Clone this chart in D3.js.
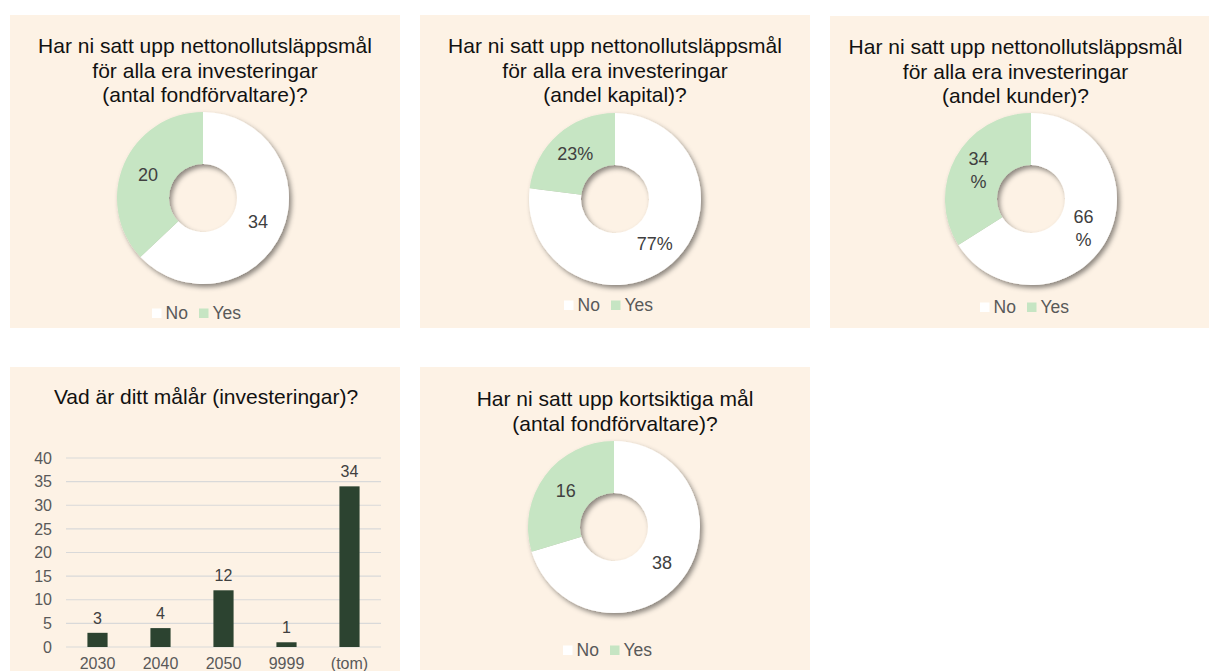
<!DOCTYPE html>
<html>
<head>
<meta charset="utf-8">
<script src="https://cdn.jsdelivr.net/npm/d3@7"></script>
<style>
  body { margin: 0; background: #fff; }
  svg text { font-family: "Liberation Sans", Arial, sans-serif; }
</style>
</head>
<body>
<div id="chart-area"></div>
<script>
// data
var donutCategories = ["No", "Yes"];
var fundManagers = [34, 20];
var capitalShare = [77, 23];
var clientShare = [66, 34];
var shortTermGoals = [38, 16];

var yearCategories = ["2030", "2040", "2050", "9999", "(tom)"];
var yearValues = [3, 4, 12, 1, 34];
var yearTicks = [0, 5, 10, 15, 20, 25, 30, 35, 40];

var bg = "#fdf2e5";
var color = d3.scaleOrdinal()
  .domain(donutCategories)
  .range(["#ffffff", "#c6e5c3"]);

var svg = d3.select("#chart-area")
  .append("svg")
  .attr("width", 1209)
  .attr("height", 671);

var defs = svg.append("defs");
var filter = defs.append("filter")
  .attr("id", "shadow")
  .attr("x", "-20%").attr("y", "-20%")
  .attr("width", "140%").attr("height", "140%");
filter.append("feDropShadow")
  .attr("dx", 2.5)
  .attr("dy", 3)
  .attr("stdDeviation", 2.5)
  .attr("flood-color", "#000")
  .attr("flood-opacity", 0.45);

var donuts = [
  { x: 10, y: 15, w: 390, h: 313, cx: 203, cy: 198, legendY: 313,
    title: ["Har ni satt upp nettonollutsläppsmål", "för alla era investeringar", "(antal fondförvaltare)?"],
    titleY: 46, values: fundManagers, pct: false, wrap: false },
  { x: 420, y: 15, w: 390, h: 313, cx: 615, cy: 199, legendY: 305,
    title: ["Har ni satt upp nettonollutsläppsmål", "för alla era investeringar", "(andel kapital)?"],
    titleY: 46, values: capitalShare, pct: true, wrap: false },
  { x: 830, y: 16, w: 379, h: 312, cx: 1031, cy: 199, legendY: 307,
    title: ["Har ni satt upp nettonollutsläppsmål", "för alla era investeringar", "(andel kunder)?"],
    titleY: 47, values: clientShare, pct: true, wrap: true },
  { x: 420, y: 367, w: 390, h: 303, cx: 614, cy: 527, legendY: 650,
    title: ["Har ni satt upp kortsiktiga mål", "(antal fondförvaltare)?"],
    titleY: 399, values: shortTermGoals, pct: false, wrap: false }
];

var outerR = 86, innerR = 34;
var pie = d3.pie().sort(null).value(d => d.value);
var arc = d3.arc().innerRadius(innerR).outerRadius(outerR);
var labelArc = d3.arc().innerRadius((innerR + outerR) / 2).outerRadius((innerR + outerR) / 2);

donuts.forEach(function(p) {
  svg.append("rect")
    .attr("x", p.x).attr("y", p.y)
    .attr("width", p.w).attr("height", p.h)
    .attr("fill", bg);

  var title = svg.append("text")
    .attr("text-anchor", "middle")
    .attr("font-size", "21px")
    .attr("fill", "#111");
  p.title.forEach(function(line, i) {
    title.append("tspan")
      .attr("x", p.x + p.w / 2 + (p.x === 830 ? -4 : 0))
      .attr("y", p.titleY + i * 24.5)
      .attr("dy", "0.35em")
      .text(line);
  });

  var data = donutCategories.map((c, i) => ({ name: c, value: p.values[i] }));
  var arcs = pie(data);
  var g = svg.append("g")
    .attr("transform", "translate(" + p.cx + "," + p.cy + ")");

  g.append("g")
    .attr("filter", "url(#shadow)")
    .selectAll("path")
    .data(arcs)
    .enter()
    .append("path")
    .attr("d", arc)
    .attr("fill", d => color(d.data.name));

  var labels = g.selectAll(".lbl")
    .data(arcs)
    .enter()
    .append("text")
    .attr("class", "lbl")
    .attr("text-anchor", "middle")
    .attr("font-size", "18px")
    .attr("fill", "#404040")
    .attr("transform", d => "translate(" + labelArc.centroid(d) + ")");

  labels.each(function(d) {
    var t = d3.select(this);
    if (p.wrap) {
      t.append("tspan").attr("x", 0).attr("dy", "-0.3em").text(d.data.value);
      t.append("tspan").attr("x", 0).attr("dy", "1.3em").text("%");
    } else {
      t.append("tspan").attr("x", 0).attr("dy", "0.35em")
        .text(d.data.value + (p.pct ? "%" : ""));
    }
  });

  // legend
  var leg = svg.append("g")
    .attr("transform", "translate(" + (p.cx - 51) + "," + p.legendY + ")");
  var items = leg.selectAll("g")
    .data(donutCategories)
    .enter()
    .append("g")
    .attr("transform", (d, i) => "translate(" + (i * 47) + ",0)");
  items.append("rect")
    .attr("x", 0).attr("y", -4.5)
    .attr("width", 9.5).attr("height", 9.5)
    .attr("fill", d => color(d));
  items.append("text")
    .attr("x", 13.5)
    .attr("dy", "0.35em")
    .attr("font-size", "17.5px")
    .attr("fill", "#595959")
    .text(d => d);
});

// bar chart panel
svg.append("rect")
  .attr("x", 10).attr("y", 367)
  .attr("width", 390).attr("height", 304)
  .attr("fill", bg);

svg.append("text")
  .attr("x", 206)
  .attr("y", 397)
  .attr("dy", "0.35em")
  .attr("text-anchor", "middle")
  .attr("font-size", "21px")
  .attr("fill", "#111")
  .text("Vad är ditt målår (investeringar)?");

var x = d3.scaleBand()
  .domain(yearCategories)
  .range([66, 381])
  .paddingInner(0.68)
  .paddingOuter(0.34);

var y = d3.scaleLinear()
  .domain([0, 40])
  .range([647, 458]);

svg.append("g")
  .selectAll("line")
  .data(yearTicks)
  .enter()
  .append("line")
  .attr("x1", 66).attr("x2", 381)
  .attr("y1", d => y(d)).attr("y2", d => y(d))
  .attr("stroke", "#d9d9d9")
  .attr("stroke-width", 1.2);

var yAxis = svg.append("g")
  .attr("transform", "translate(56,0)")
  .call(d3.axisLeft(y).tickValues(yearTicks).tickSize(0).tickPadding(4));
yAxis.select(".domain").remove();
yAxis.selectAll("text")
  .attr("font-size", "16px")
  .attr("font-family", "Liberation Sans, Arial, sans-serif")
  .attr("fill", "#595959");

var xAxis = svg.append("g")
  .attr("transform", "translate(0,647)")
  .call(d3.axisBottom(x).tickSize(0).tickPadding(11));
xAxis.select(".domain").remove();
xAxis.selectAll("text")
  .attr("font-size", "16px")
  .attr("font-family", "Liberation Sans, Arial, sans-serif")
  .attr("fill", "#595959");

svg.append("g")
  .selectAll("rect")
  .data(yearValues)
  .enter()
  .append("rect")
  .attr("x", (d, i) => x(yearCategories[i]))
  .attr("y", d => y(d))
  .attr("width", x.bandwidth())
  .attr("height", d => 647 - y(d))
  .attr("fill", "#2c4330");

svg.append("g")
  .selectAll("text")
  .data(yearValues)
  .enter()
  .append("text")
  .attr("x", (d, i) => x(yearCategories[i]) + x.bandwidth() / 2)
  .attr("y", d => y(d) - 9)
  .attr("text-anchor", "middle")
  .attr("font-size", "16px")
  .attr("fill", "#404040")
  .text(d => d);
</script>
</body>
</html>
